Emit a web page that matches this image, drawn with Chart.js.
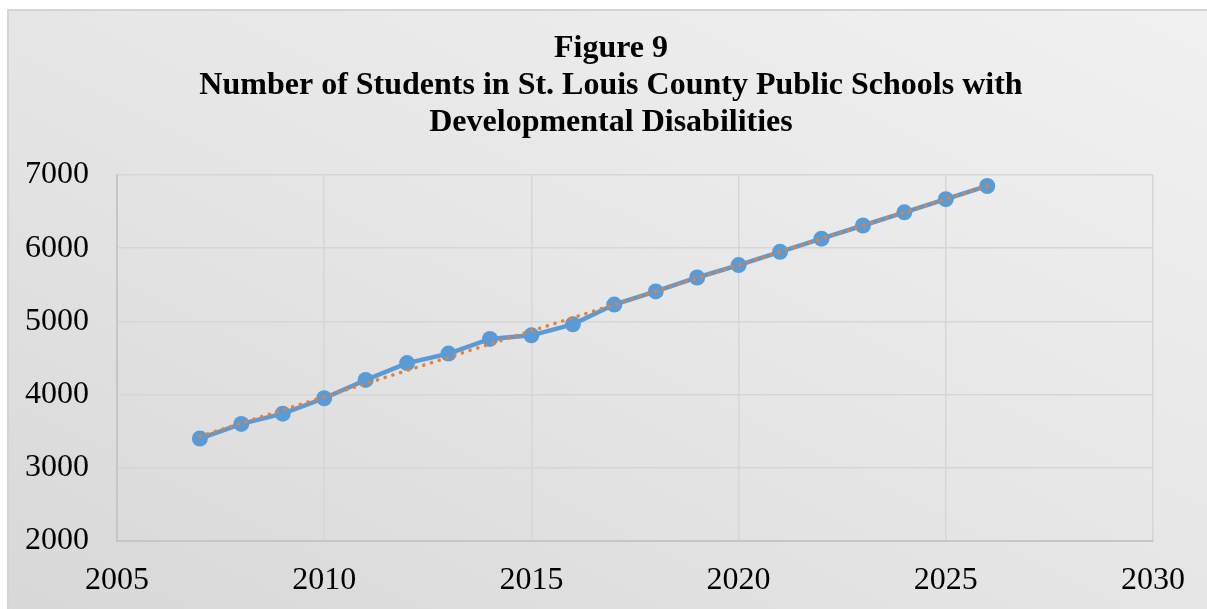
<!DOCTYPE html>
<html>
  <head>
    <script src="https://cdn.jsdelivr.net/npm/chart.js@4.4.0/dist/chart.umd.min.js"></script>
    <style>
      body {
        margin: 0;
        background-color: white;
        overflow: hidden;
      }
      #frame {
        position: absolute;
        left: 7px;
        top: 9px;
        width: 1200px;
        height: 600px;
        border-top: 2px solid #d4d4d4;
        border-left: 2px solid #d4d4d4;
        box-sizing: border-box;
        background: linear-gradient(to top right, #d8d8d8, #e6e6e6 50%, #f1f1f1);
      }
    </style>
  </head>
  <body>
    <div id="frame">
      <canvas id="studentChart"></canvas>
    </div>
  <script>
    // Students with developmental disabilities by school year (actual + projected)
    let years = [2007, 2008, 2009, 2010, 2011, 2012, 2013, 2014, 2015, 2016,
                 2017, 2018, 2019, 2020, 2021, 2022, 2023, 2024, 2025, 2026];
    let students = [3400, 3600, 3740, 3950, 4200, 4430, 4560, 4760, 4810, 4960,
                    5230, 5410, 5600, 5770, 5950, 6130, 6310, 6490, 6670, 6850];

    // Linear trendline end points
    let trendYears = [2007, 2026];
    let trendValues = [3430, 6850];

    let titleLines = ["Figure 9",
                      "Number of Students in St. Louis County Public Schools with",
                      "Developmental Disabilities"];

    let serif = "'Liberation Serif', 'Times New Roman', serif";

    let studentPoints = years.map(function (y, i) { return {x: y, y: students[i]}; });
    let trendPoints = trendYears.map(function (y, i) { return {x: y, y: trendValues[i]}; });

    // The built-in title centres over the padded box, which sits off-centre here,
    // so the three heading lines are drawn by a small plugin instead
    let headingPlugin = {
      id: 'heading',
      afterDraw: function (chart) {
        let c = chart.ctx;
        c.save();
        c.fillStyle = '#000';
        c.font = 'bold 32px ' + serif;
        c.textAlign = 'center';
        c.textBaseline = 'middle';
        titleLines.forEach(function (line, i) {
          c.fillText(line, 602, 38 + i * 37);
        });
        c.restore();
      }
    };

    var ctx = document.getElementById('studentChart').getContext('2d');
    var studentChart = new Chart(ctx, {
      type: 'line',
      data: {
        datasets: [
          {
            label: 'Linear trend',
            data: trendPoints,
            borderColor: '#ED7D31',
            borderWidth: 3.5,
            borderDash: [0.1, 8],
            borderCapStyle: 'round',
            pointRadius: 0,
            fill: false,
            order: 0
          },
          {
            label: 'Students',
            data: studentPoints,
            borderColor: '#5B9BD5',
            backgroundColor: '#5B9BD5',
            borderWidth: 4.5,
            pointRadius: 8,
            pointBorderWidth: 0,
            pointBackgroundColor: '#5B9BD5',
            tension: 0,
            fill: false,
            order: 1
          }
        ]
      },
      options: {
        responsive: true,
        maintainAspectRatio: false,
        animation: false,
        layout: {
          padding: {left: 0, right: 54, top: 164, bottom: 0}
        },
        plugins: {
          legend: {display: false},
          tooltip: {enabled: false},
          title: {display: false}
        },
        scales: {
          x: {
            type: 'linear',
            min: 2005,
            max: 2030,
            ticks: {
              stepSize: 5,
              color: '#000',
              padding: 20,
              font: {family: serif, size: 32},
              callback: function (v) { return String(v); }
            },
            grid: {color: '#d6d6d6', lineWidth: 1.5, drawTicks: false},
            border: {color: '#c6c6c6', width: 2},
            afterFit: function (scale) { scale.height = 68; }
          },
          y: {
            min: 2000,
            max: 7000,
            ticks: {
              stepSize: 1000,
              color: '#000',
              padding: 28,
              font: {family: serif, size: 32},
              callback: function (v) { return String(v); }
            },
            grid: {color: '#d6d6d6', lineWidth: 1.5, drawTicks: false},
            border: {color: '#c6c6c6', width: 2},
            afterFit: function (scale) { scale.width = 108; }
          }
        }
      },
      plugins: [headingPlugin]
    });
  </script>
  </body>
</html>
